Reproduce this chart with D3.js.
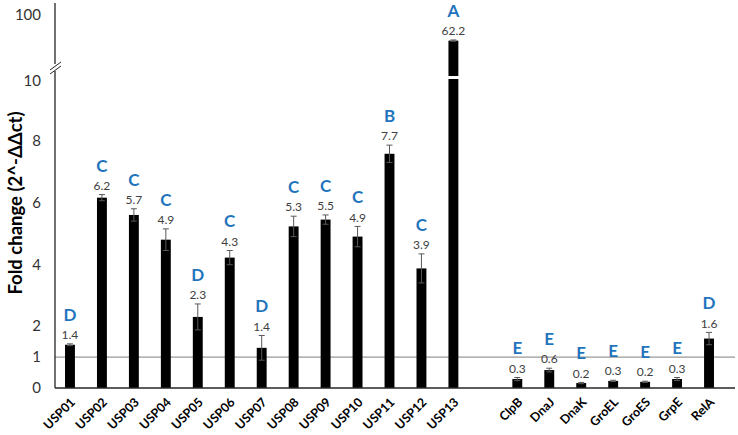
<!DOCTYPE html>
<html><head><meta charset="utf-8">
<script src="https://cdn.jsdelivr.net/npm/d3@7"></script>
<style>
html,body{margin:0;padding:0;background:#fff;}
svg{display:block;font-family:Lato,"Open Sans","Noto Sans",sans-serif;}
</style></head>
<body>
<svg id="chart" width="738" height="435"></svg>
<script>
const uspCategories = ["USP01","USP02","USP03","USP04","USP05","USP06","USP07","USP08","USP09","USP10","USP11","USP12","USP13"];
const otherCategories = ["ClpB","DnaJ","DnaK","GroEL","GroES","GrpE","RelA"];
const categories = uspCategories.concat(otherCategories);
const values = [1.4, 6.16, 5.6, 4.8, 2.3, 4.22, 1.3, 5.23, 5.45, 4.9, 7.58, 3.87, 62.2, 0.29, 0.58, 0.16, 0.23, 0.2, 0.29, 1.6];
const errors = [0.03, 0.1, 0.2, 0.35, 0.42, 0.23, 0.4, 0.33, 0.15, 0.33, 0.28, 0.47, 1.0, 0.05, 0.06, 0.02, 0.02, 0.02, 0.05, 0.2];
const valueLabels = ["1.4","6.2","5.7","4.9","2.3","4.3","1.4","5.3","5.5","4.9","7.7","3.9","62.2","0.3","0.6","0.2","0.3","0.2","0.3","1.6"];
const letters = ["D","C","C","C","D","C","D","C","C","C","B","C","A","E","E","E","E","E","E","D"];
const lowerTicks = [0,1,2,4,6,8,10];
const upperTicks = [100];
const refLine = 1;
const yTitle = "Fold change (2^-ΔΔct)";

const svg = d3.select("#chart");
const domain = uspCategories.concat(["__gap__"], otherCategories);
const x = d3.scaleBand().domain(domain).range([54, 725]).paddingInner(0.69).paddingOuter(0.345);
const yLow = d3.scaleLinear().domain([0, 10]).range([388, 79]);
const yHigh = d3.scaleLinear().domain([10, 100]).range([76, 15]);
const y = v => v <= 10 ? yLow(v) : yHigh(v);
const cx = c => x(c) + x.bandwidth() / 2;

const axisX = 55, axisRight = 735;

svg.append("line").attr("x1", axisX).attr("x2", axisRight)
  .attr("y1", yLow(refLine)).attr("y2", yLow(refLine))
  .attr("stroke", "#7f7f7f").attr("stroke-width", 1);

const data = categories.map((c, i) => ({c, v: values[i], e: errors[i], lab: valueLabels[i], let: letters[i]}));
const bars = svg.append("g");
data.forEach(d => {
  if (d.v <= 10) {
    bars.append("rect").attr("x", x(d.c)).attr("width", x.bandwidth())
      .attr("y", yLow(d.v)).attr("height", yLow(0) - yLow(d.v)).attr("fill", "#000");
  } else {
    bars.append("rect").attr("x", x(d.c)).attr("width", x.bandwidth())
      .attr("y", yLow(10)).attr("height", yLow(0) - yLow(10)).attr("fill", "#000");
    bars.append("rect").attr("x", x(d.c)).attr("width", x.bandwidth())
      .attr("y", yHigh(d.v)).attr("height", yHigh(10) - yHigh(d.v)).attr("fill", "#000");
  }
});

const eg = svg.append("g").attr("stroke", "#595959").attr("stroke-width", 1);
data.forEach(d => {
  const xc = cx(d.c), t = y(d.v + d.e), b = y(d.v - d.e);
  eg.append("line").attr("x1", xc).attr("x2", xc).attr("y1", t).attr("y2", b);
  eg.append("line").attr("x1", xc - 3).attr("x2", xc + 3).attr("y1", t).attr("y2", t);
  eg.append("line").attr("x1", xc - 3).attr("x2", xc + 3).attr("y1", b).attr("y2", b);
});

data.forEach(d => {
  const xc = cx(d.c), t = y(d.v + d.e);
  const vc = t - 9;
  svg.append("text").attr("x", xc).attr("y", vc).attr("dy", "0.35em")
    .attr("text-anchor", "middle").attr("font-size", 12).attr("fill", "#404040").text(d.lab);
  svg.append("text").attr("x", xc).attr("y", vc - 20).attr("dy", "0.35em")
    .attr("text-anchor", "middle").attr("font-size", 17).attr("font-weight", "bold")
    .attr("fill", "#1F74BD").text(d.let);
});

svg.append("line").attr("x1", axisX).attr("x2", axisX).attr("y1", 3).attr("y2", yLow(0))
  .attr("stroke", "#262626").attr("stroke-width", 1.3);
svg.append("line").attr("x1", axisX).attr("x2", axisRight).attr("y1", yLow(0)).attr("y2", yLow(0))
  .attr("stroke", "#262626").attr("stroke-width", 1.5);

const by = 68;
svg.append("rect").attr("x", axisX - 2).attr("y", by - 4).attr("width", 4).attr("height", 7).attr("fill", "#fff");
[-2, 2].forEach(o => {
  svg.append("line").attr("x1", axisX - 5).attr("y1", by + o + 4).attr("x2", axisX + 6).attr("y2", by + o - 4)
    .attr("stroke", "#262626").attr("stroke-width", 1);
});

const tg = svg.append("g").attr("font-size", 15).attr("fill", "#333").attr("text-anchor", "end");
lowerTicks.forEach(t => {
  tg.append("text").attr("x", 41).attr("y", yLow(t) + (t === 10 ? 2 : 0)).attr("dy", "0.35em").text(t);
});
upperTicks.forEach(t => {
  tg.append("text").attr("x", 41).attr("y", yHigh(t)).attr("dy", "0.35em").text(t);
});

const xg = svg.append("g").attr("font-size", 12.5).attr("font-weight", "bold").attr("fill", "#000");
categories.forEach(c => {
  xg.append("text").attr("text-anchor", "end")
    .attr("transform", `translate(${cx(c) + 6},${yLow(0) + 15}) rotate(-45)`).text(c);
});

svg.append("text").attr("transform", "translate(22,203) rotate(-90)")
  .attr("text-anchor", "middle").attr("font-size", 18.5).attr("font-weight", "bold")
  .attr("fill", "#000").text(yTitle);
</script>
</body></html>
